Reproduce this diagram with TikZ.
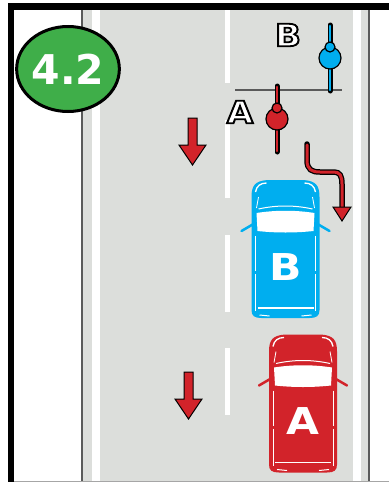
\documentclass[tikz,border=0pt]{standalone}
\usepackage{fontspec}
\setmainfont{DejaVu Sans}
\usetikzlibrary{shapes.geometric}

\definecolor{road}{HTML}{DCDEDB}
\definecolor{carblue}{HTML}{00AEEF}
\definecolor{carred}{HTML}{D2232A}
\definecolor{signgreen}{HTML}{3FAE49}
\definecolor{kerb}{HTML}{5A5A5A}

% white letters with a black stroked outline (text render mode 2)
\newcommand\outlined[1]{\special{pdf:literal direct 0 G 2 Tr 1.8 w}#1\special{pdf:literal direct 0 Tr 1 w}}

\tikzset{
  lanedash/.style={fill=white},
  carletter/.style={font=\fontsize{37}{37}\selectfont\bfseries, text=white, inner sep=0pt,
                    transform shape, xscale=1.15},
  ridelabel/.style={font=\fontsize{31}{31}\selectfont\bfseries, inner sep=0pt, text=white,
                    transform shape, xscale=1.1},
  dirarrow/.style={fill=carred, draw=black, line width=1pt, line join=miter},
  % car seen from above, centred on the pic origin
  pics/car/.style 2 args={code={
    \draw[#1, line width=2.5pt, line cap=round] (-32,-25) -- (-44,-18) (32,-25) -- (44,-18);
    \fill[#1] (-34,-52) .. controls (-34,-64) and (-30,-68) .. (-18,-69) -- (18,-69)
      .. controls (30,-68) and (34,-64) .. (34,-52) -- (34,61)
      .. controls (34,67) and (31,69) .. (24,69) -- (-24,69)
      .. controls (-31,69) and (-34,67) .. (-34,61) -- cycle;
    \draw[white, line width=1.3pt] (-30,-57) .. controls (-29,-63) and (-25,-66) .. (-19,-66);
    \draw[white, line width=1.3pt] (30,-57) .. controls (29,-63) and (25,-66) .. (19,-66);
    \draw[white, line width=0.8pt] (-27,-52) -- (-29,-41) (27,-52) -- (29,-41);
    \draw[white, line width=1pt] (-27,-40) .. controls (-9,-44) and (9,-44) .. (27,-40);
    \fill[white] (-29,-36) .. controls (-10,-39) and (10,-39) .. (29,-36) -- (28,-18)
      .. controls (10,-16) and (-10,-16) .. (-28,-18) -- cycle;
    \draw[white, line width=0.9pt] (-30,-13) -- (-30,22) (-30,25) -- (-30,62)
                                   (30,-13) -- (30,22) (30,25) -- (30,62);
    \draw[white, line width=1.3pt] (-28,59) -- (28,59);
    \draw[white, line width=1pt] (-26,66) -- (-16,67) (26,66) -- (16,67);
    \node[carletter] (-letter) at (0,18) {#2};
  }},
  % cyclist seen from above, centred on the body
  pics/rider/.style={code={
    \draw[black, line width=5pt, line cap=round] (0,-33) -- (0,33);
    \draw[#1, line width=2.4pt, line cap=round] (0,-32) -- (0,32);
    \filldraw[fill=#1, draw=black, line width=1.2pt] (0,0) circle[radius=11];
    \filldraw[fill=#1, draw=black, line width=1.2pt] (0,-11) circle[radius=5];
  }},
  % straight direction arrow pointing down, origin at the top of the shaft
  pics/downarrow/.style={code={
    \filldraw[dirarrow] (-4.5,0) -- (4.5,0) -- (4.5,27) -- (13.5,27) -- (0,47)
      -- (-13.5,27) -- (-4.5,27) -- cycle;
  }}
}

\begin{document}
\begin{tikzpicture}[x=1pt, y=-1pt]
\useasboundingbox (0,0) rectangle (389,482);
\fill[white] (0,0) rectangle (389,482);

% carriageway
\fill[road] (83,10) rectangle (368,482);
\fill[white] (92,10) rectangle (100,482);
\fill[white] (353,10) rectangle (361,482);
\draw[kerb, line width=1.5pt] (82,10) -- (82,482) (369,10) -- (369,482);
\draw[gray!70, line width=1pt] (14,481.5) -- (389,481.5);

% frame
\fill[black] (8,3) rectangle (389,10);
\fill[black] (8,3) rectangle (14,482);

% lane divider
\foreach \ya/\yb in {10/83, 120/198, 235/312, 348/415}
  \fill[lanedash] (224.5,\ya) rectangle (229.5,\yb);

% stop line
\draw[kerb, line width=1.5pt] (235,90) -- (342,90);

% section badge
\node[ellipse, draw=black, line width=3pt, fill=signgreen, minimum width=93pt,
      minimum height=85pt, inner sep=0pt, text=white,
      font=\fontsize{41}{41}\selectfont\bfseries] (badge) at (68,69) {4.2};

% direction arrows
\pic (arrowone) at (192.5,118) {downarrow};
\pic (arrowtwo) at (188.5,372) {downarrow};

% path of cyclist A
\draw[black, line width=5.5pt, line cap=round] (307,144) -- (307,160)
  .. controls (307,170) and (312,172) .. (320,172) -- (334,172)
  .. controls (340,172) and (342,176) .. (342,184) -- (342,208);
\draw[carred, line width=3pt, line cap=round] (307,145) -- (307,160)
  .. controls (307,170) and (312,172) .. (320,172) -- (334,172)
  .. controls (340,172) and (342,176) .. (342,184) -- (342,208);
\filldraw[dirarrow] (333,207) -- (351,207) -- (342,221) -- cycle;

% cyclists
\pic (riderB) at (330,58) {rider=carblue};
\pic (riderA) at (277,119) {rider=carred};

% cyclist labels
\node[ridelabel] (labB) at (288,35) {\outlined{B}};
\node[ridelabel] (labA) at (240,112) {\outlined{A}};

% cars
\pic (carB) at (285.5,249) {car={carblue}{B}};
\pic (carA) at (303,403.5) {car={carred}{A}};
\end{tikzpicture}
\end{document}
